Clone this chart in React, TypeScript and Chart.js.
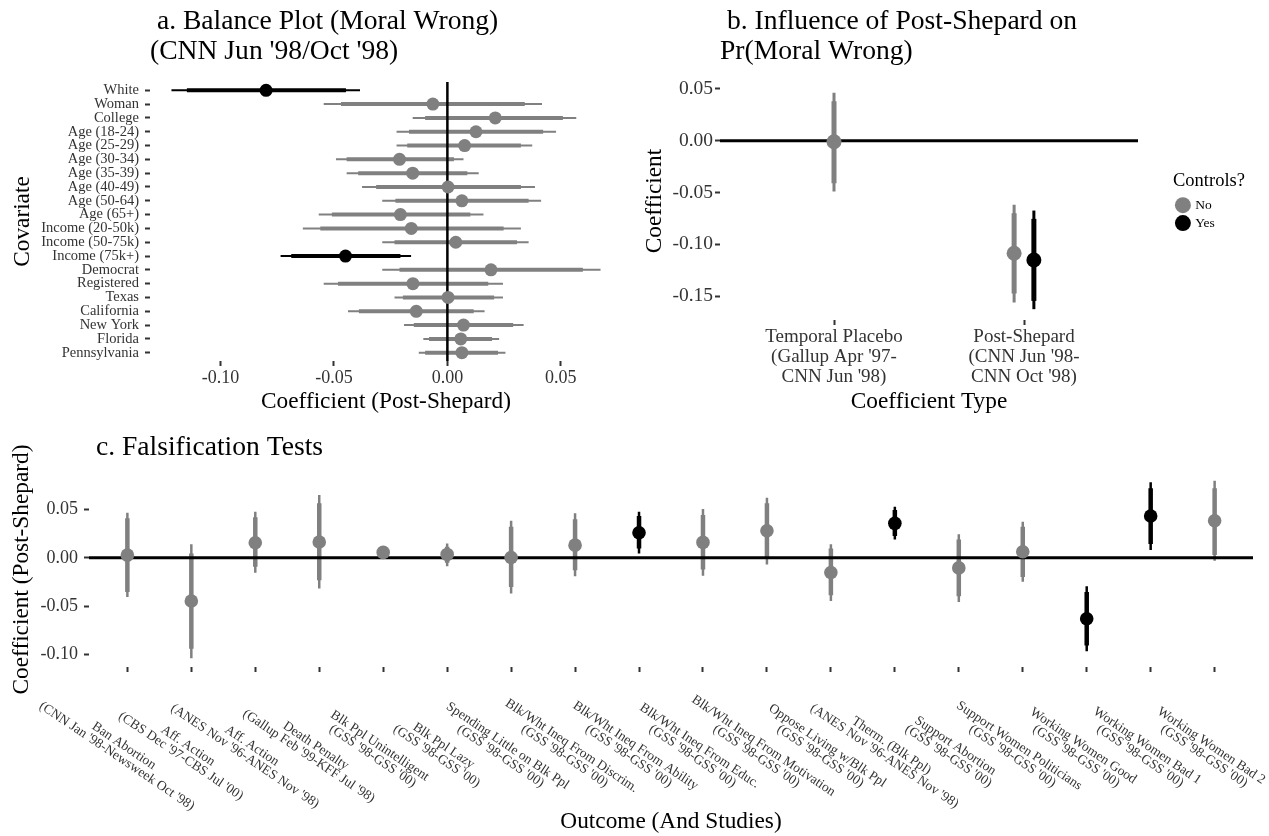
import React, { useEffect, useRef } from 'react';
import { Chart, registerables } from 'chart.js';

Chart.register(...registerables);

const SERIF = '"Liberation Serif", "Times New Roman", Times, serif';
Chart.defaults.font.family = SERIF;

const GRAY = '#808080';
const BLACK = '#000000';
const TICK_TEXT = '#333333';

/* ---------------- panel a: balance plot ---------------- */
const COVARIATES = ['White', 'Woman', 'College', 'Age (18-24)', 'Age (25-29)', 'Age (30-34)', 'Age (35-39)', 'Age (40-49)', 'Age (50-64)', 'Age (65+)', 'Income (20-50k)', 'Income (50-75k)', 'Income (75k+)', 'Democrat', 'Registered', 'Texas', 'California', 'New York', 'Florida', 'Pennsylvania'];
const A_EST = [-0.0799, -0.0064, 0.0211, 0.0126, 0.0076, -0.0211, -0.0153, 0.0003, 0.0064, -0.0207, -0.0159, 0.0037, -0.0449, 0.0192, -0.0152, 0.0003, -0.0137, 0.0071, 0.0059, 0.0064];
const A_LO95 = [-0.1216, -0.0545, -0.0153, -0.0224, -0.0224, -0.0491, -0.0444, -0.0376, -0.0287, -0.0567, -0.0637, -0.0287, -0.0735, -0.0287, -0.0545, -0.0233, -0.0438, -0.0191, -0.0106, -0.0126];
const A_HI95 = [-0.0385, 0.0417, 0.0568, 0.0479, 0.0374, 0.0071, 0.0138, 0.0386, 0.0413, 0.0159, 0.0324, 0.0358, -0.0160, 0.0675, 0.0245, 0.0245, 0.0164, 0.0336, 0.0228, 0.0256];
const A_LO90 = [-0.1148, -0.0469, -0.0098, -0.0169, -0.0177, -0.0444, -0.0393, -0.0314, -0.0229, -0.0509, -0.0560, -0.0233, -0.0688, -0.0211, -0.0482, -0.0196, -0.0390, -0.0148, -0.0081, -0.0098];
const A_HI90 = [-0.0447, 0.0341, 0.0509, 0.0422, 0.0324, 0.0029, 0.0088, 0.0324, 0.0358, 0.0101, 0.0248, 0.0307, -0.0207, 0.0597, 0.0180, 0.0206, 0.0116, 0.0290, 0.0197, 0.0223];
const A_HIGHLIGHT = [true, false, false, false, false, false, false, false, false, false, false, false, true, false, false, false, false, false, false, false];
const A_X_TICKS = [-0.1, -0.05, 0, 0.05];

/* ---------------- panel b: influence ---------------- */
const B_TYPES = [
  ['Temporal Placebo', "(Gallup Apr '97-", "CNN Jun '98)"],
  ['Post-Shepard', "(CNN Jun '98-", "CNN Oct '98)"],
];
const B_GROUP = [1, 2, 2];
const B_CONTROLS = ['No', 'No', 'Yes'];
const B_EST = [-0.001, -0.1086, -0.1151];
const B_LO95 = [-0.049, -0.156, -0.1625];
const B_HI95 = [0.0461, -0.0619, -0.0674];
const B_LO90 = [-0.041, -0.1473, -0.1545];
const B_HI90 = [0.038, -0.0699, -0.0754];
const B_Y_TICKS = [0.05, 0, -0.05, -0.1, -0.15];
const B_DODGE = 0.052;

/* ---------------- panel c: falsification ---------------- */
const C_OUTCOMES = [
  ['Ban Abortion', "(CNN Jan '98-Newsweek Oct '98)"],
  ['Aff. Action', "(CBS Dec '97-CBS Jul '00)"],
  ['Aff. Action', "(ANES Nov '96-ANES Nov '98)"],
  ['Death Penalty', "(Gallup Feb '99-KFF Jul '98)"],
  ['Blk Ppl Unintelligent', "(GSS '98-GSS '00)"],
  ['Blk Ppl Lazy', "(GSS '98-GSS '00)"],
  ['Spending Little on Blk Ppl', "(GSS '98-GSS '00)"],
  ['Blk/Wht Ineq From Discrim.', "(GSS '98-GSS '00)"],
  ['Blk/Wht Ineq From Ability', "(GSS '98-GSS '00)"],
  ['Blk/Wht Ineq From Educ.', "(GSS '98-GSS '00)"],
  ['Blk/Wht Ineq From Motivation', "(GSS '98-GSS '00)"],
  ['Oppose Living w/Blk Ppl', "(GSS '98-GSS '00)"],
  ['Therm. (Blk Ppl)', "(ANES Nov '96-ANES Nov '98)"],
  ['Support Abortion', "(GSS '98-GSS '00)"],
  ['Support Women Politicians', "(GSS '98-GSS '00)"],
  ['Working Women Good', "(GSS '98-GSS '00)"],
  ['Working Women Bad 1', "(GSS '98-GSS '00)"],
  ['Working Women Bad 2', "(GSS '98-GSS '00)"],
];
const C_EST = [0.0028, -0.0445, 0.0155, 0.0163, 0.0056, 0.0035, 0.0004, 0.0131, 0.0259, 0.0159, 0.0280, -0.0151, 0.0356, -0.0104, 0.0062, -0.0628, 0.0432, 0.0383];
const C_LO95 = [-0.0404, -0.1035, -0.0155, -0.0317, 0.0006, -0.0086, -0.0369, -0.0190, 0.0045, -0.0186, -0.0069, -0.0445, 0.0190, -0.0455, -0.0248, -0.0963, 0.0080, -0.0031];
const C_HI95 = [0.0466, 0.0140, 0.0476, 0.0649, 0.0106, 0.0149, 0.0383, 0.0460, 0.0476, 0.0504, 0.0621, 0.0139, 0.0528, 0.0242, 0.0373, -0.0293, 0.0781, 0.0794];
const C_LO90 = [-0.0352, -0.0938, -0.0093, -0.0231, 0.0016, -0.0052, -0.0300, -0.0127, 0.0097, -0.0120, -0.0006, -0.0386, 0.0225, -0.0397, -0.0197, -0.0904, 0.0142, 0.0028];
const C_HI90 = [0.0408, 0.0045, 0.0418, 0.0563, 0.0096, 0.0114, 0.0321, 0.0397, 0.0432, 0.0442, 0.0563, 0.0097, 0.0494, 0.0190, 0.0321, -0.0352, 0.0718, 0.0718];
const C_CONTROLS = ['No', 'No', 'No', 'No', 'No', 'No', 'No', 'No', 'Yes', 'No', 'No', 'No', 'Yes', 'No', 'No', 'Yes', 'Yes', 'No'];
const C_Y_TICKS = [0.05, 0, -0.05, -0.1];

/* ---------------- helpers ---------------- */
type Pt = { x: number | null; y: number | null };

const expand = (lo: number, hi: number): [number, number] => {
  const d = hi - lo;
  return [lo - 0.05 * d, hi + 0.05 * d];
};

function segments(pos: number[], lo: number[], hi: number[], keep: (i: number) => boolean, horizontal: boolean): Pt[] {
  const out: Pt[] = [];
  pos.forEach((p, i) => {
    if (!keep(i)) return;
    if (horizontal) out.push({ x: lo[i], y: p }, { x: hi[i], y: p });
    else out.push({ x: p, y: lo[i] }, { x: p, y: hi[i] });
    out.push({ x: null, y: null });
  });
  return out;
}

function pointsOf(pos: number[], est: number[], keep: (i: number) => boolean, horizontal: boolean): Pt[] {
  const out: Pt[] = [];
  pos.forEach((p, i) => {
    if (!keep(i)) return;
    out.push(horizontal ? { x: est[i], y: p } : { x: p, y: est[i] });
  });
  return out;
}

const segDS = (data: Pt[], color: string, width: number, order: number) => ({
  type: 'line', data, borderColor: color, borderWidth: width, pointRadius: 0, pointHoverRadius: 0,
  spanGaps: false, fill: false, tension: 0, borderCapStyle: 'butt', order,
});

const ptDS = (data: Pt[], color: string, r: number, order = 0) => ({
  type: 'line', data, showLine: false, pointRadius: r, pointHoverRadius: r, pointStyle: 'circle',
  pointBackgroundColor: color, pointBorderColor: color, pointBorderWidth: 0, order,
});

const fixedTicks = (values: number[]) => (scale: any) => {
  scale.ticks = values.map((v) => ({ value: v }));
};

const tickGrid = { display: true, drawOnChartArea: false, drawTicks: true, tickLength: 5, tickWidth: 2, tickColor: '#333333' };

const titleOpts = (text: string[], top: number, bottom: number) => ({
  display: true, text, align: 'start', fullSize: false, color: '#000',
  font: { family: SERIF, size: 27.6, lineHeight: 1.08, weight: 'normal' },
  padding: { top, bottom },
});

const axisTitle = (text: string, padding: any) => ({
  display: true, text, color: '#000', font: { family: SERIF, size: 23.3, lineHeight: 1.2, weight: 'normal' }, padding,
});

const base = {
  animation: false, responsive: false, maintainAspectRatio: false, devicePixelRatio: 1, events: [],
};

/* ---------------- chart a ---------------- */
function buildA(): any {
  const pos = COVARIATES.map((_, i) => i + 1);
  const keep = (hl: boolean) => (i: number) => A_HIGHLIGHT[i] === hl;
  const [xMin, xMax] = expand(Math.min(...A_LO95), Math.max(...A_HI95));
  const yMin = 0.4;
  const yMax = COVARIATES.length + 0.6;
  return {
    type: 'line',
    data: {
      datasets: [
        ptDS(pointsOf(pos, A_EST, keep(false), true), GRAY, 6.5, 0),
        ptDS(pointsOf(pos, A_EST, keep(true), true), BLACK, 6.5, 0),
        segDS([{ x: 0, y: yMin }, { x: 0, y: yMax }], BLACK, 2.5, 1),
        segDS(segments(pos, A_LO90, A_HI90, keep(false), true), GRAY, 4, 2),
        segDS(segments(pos, A_LO90, A_HI90, keep(true), true), BLACK, 4, 2),
        segDS(segments(pos, A_LO95, A_HI95, keep(false), true), GRAY, 2, 3),
        segDS(segments(pos, A_LO95, A_HI95, keep(true), true), BLACK, 2, 3),
      ],
    },
    options: {
      ...base,
      layout: { padding: { left: 0, right: 13, top: 0, bottom: 4 } },
      plugins: {
        legend: { display: false },
        tooltip: { enabled: false },
        title: titleOpts([' a. Balance Plot (Moral Wrong)', "(CNN Jun '98/Oct '98)"], 7, 15.4),
      },
      scales: {
        x: {
          type: 'linear', min: xMin, max: xMax,
          afterBuildTicks: fixedTicks(A_X_TICKS),
          afterFit: (s: any) => { s.height = 60; },
          ticks: { callback: (v: any) => Number(v).toFixed(2), font: { size: 18 }, color: TICK_TEXT, padding: 1, autoSkip: false, maxRotation: 0, minRotation: 0 },
          grid: tickGrid, border: { display: false },
          title: axisTitle('Coefficient (Post-Shepard)', { top: 0, bottom: 5.5 }),
        },
        y: {
          type: 'linear', reverse: true, min: yMin, max: yMax,
          afterBuildTicks: fixedTicks(pos),
          afterFit: (s: any) => { s.width = 150; },
          ticks: { callback: (v: any) => COVARIATES[Math.round(Number(v)) - 1], font: { size: 14.5 }, color: TICK_TEXT, padding: 6, autoSkip: false },
          grid: tickGrid, border: { display: false },
          title: axisTitle('Covariate', { top: 9, bottom: 0 }),
        },
      },
    },
  };
}

/* ---------------- chart b ---------------- */
const LEGEND_W = 90;
const fixedLegendWidth = {
  id: 'fixedLegendWidth',
  beforeLayout(chart: any) {
    const lg = chart.legend;
    if (lg && !lg.__fixedWidth) {
      const orig = lg.fit;
      lg.fit = function () {
        orig.call(this);
        this.width = LEGEND_W;
      };
      lg.__fixedWidth = true;
    }
  },
};

function buildB(): any {
  const pos = B_GROUP.map((g, i) => {
    const n = B_GROUP.filter((v) => v === g).length;
    if (n === 1) return g;
    const k = B_GROUP.slice(0, i).filter((v) => v === g).length;
    return g + (k - (n - 1) / 2) * 2 * B_DODGE;
  });
  const keep = (c: string) => (i: number) => B_CONTROLS[i] === c;
  const [yMin, yMax] = expand(Math.min(...B_LO95), Math.max(...B_HI95));
  const xMin = 0.4;
  const xMax = B_TYPES.length + 0.6;
  return {
    type: 'line',
    data: {
      datasets: [
        ptDS(pointsOf(pos, B_EST, keep('No'), false), GRAY, 7.5, 0),
        ptDS(pointsOf(pos, B_EST, keep('Yes'), false), BLACK, 7.5, 0),
        segDS([{ x: xMin, y: 0 }, { x: xMax, y: 0 }], BLACK, 3, 1),
        segDS(segments(pos, B_LO90, B_HI90, keep('No'), false), GRAY, 5, 2),
        segDS(segments(pos, B_LO90, B_HI90, keep('Yes'), false), BLACK, 5, 2),
        segDS(segments(pos, B_LO95, B_HI95, keep('No'), false), GRAY, 3, 3),
        segDS(segments(pos, B_LO95, B_HI95, keep('Yes'), false), BLACK, 3, 3),
      ],
    },
    plugins: [fixedLegendWidth],
    options: {
      ...base,
      layout: { padding: { left: 0, right: 634 - 503 - 35 - LEGEND_W, top: 0, bottom: 5 } },
      plugins: {
        tooltip: { enabled: false },
        title: titleOpts([' b. Influence of Post-Shepard on', 'Pr(Moral Wrong)'], 7, 15.4),
        legend: {
          display: true, position: 'right', align: 'center', fullSize: false,
          title: { display: true, text: 'Controls?', position: 'start', color: '#000', font: { family: SERIF, size: 18.5, lineHeight: 1.2 }, padding: { top: 4, bottom: 0 } },
          labels: {
            usePointStyle: true, boxWidth: 11, boxHeight: 11.3, padding: 4.4, color: '#000',
            font: { family: SERIF, size: 13.5 },
            generateLabels: () => [
              { text: 'No', fillStyle: GRAY, strokeStyle: GRAY, lineWidth: 0, pointStyle: 'circle', hidden: false, datasetIndex: 0 },
              { text: 'Yes', fillStyle: BLACK, strokeStyle: BLACK, lineWidth: 0, pointStyle: 'circle', hidden: false, datasetIndex: 1 },
            ],
          },
        },
      },
      scales: {
        x: {
          type: 'linear', min: xMin, max: xMax,
          afterBuildTicks: fixedTicks(B_TYPES.map((_, i) => i + 1)),
          afterFit: (s: any) => { s.height = 100; },
          ticks: { callback: (v: any) => B_TYPES[Math.round(Number(v)) - 1], font: { size: 19, lineHeight: 1.06 }, color: TICK_TEXT, padding: 1.5, autoSkip: false, maxRotation: 0, minRotation: 0 },
          grid: tickGrid, border: { display: false },
          title: axisTitle('Coefficient Type', { top: 0, bottom: 4.5 }),
        },
        y: {
          type: 'linear', min: yMin, max: yMax,
          afterBuildTicks: fixedTicks(B_Y_TICKS),
          afterFit: (s: any) => { s.width = 85; },
          ticks: { callback: (v: any) => Number(v).toFixed(2), font: { size: 19.5 }, color: TICK_TEXT, padding: 2, autoSkip: false },
          grid: tickGrid, border: { display: false },
          title: axisTitle('Coefficient', { top: 6, bottom: 0 }),
        },
        ySpacer: {
          type: 'linear', position: 'right', display: true,
          ticks: { display: false }, grid: { display: false }, border: { display: false },
          afterFit: (s: any) => { s.width = 35; },
        },
      },
    },
  };
}

/* ---------------- chart c ---------------- */
const C_LABEL_FONT = 13.5;
const C_LABEL_ANGLE = 34;
const C_LABEL_DX = -7;
const C_LABEL_DY = 84;
const C_LABEL_LH = 12.5;

const rotatedOutcomeLabels = {
  id: 'rotatedOutcomeLabels',
  afterDraw(chart: any) {
    const xs = chart.scales.x;
    const ctx = chart.ctx as CanvasRenderingContext2D;
    ctx.save();
    ctx.font = `${C_LABEL_FONT}px ${SERIF}`;
    ctx.fillStyle = TICK_TEXT;
    ctx.textAlign = 'center';
    ctx.textBaseline = 'middle';
    C_OUTCOMES.forEach((lines, i) => {
      const px = xs.getPixelForValue(i + 1);
      ctx.save();
      ctx.translate(px + C_LABEL_DX, chart.chartArea.bottom + C_LABEL_DY);
      ctx.rotate((C_LABEL_ANGLE * Math.PI) / 180);
      lines.forEach((t, j) => ctx.fillText(t, 0, (j - (lines.length - 1) / 2) * C_LABEL_LH));
      ctx.restore();
    });
    ctx.restore();
  },
};

function buildC(): any {
  const pos = C_OUTCOMES.map((_, i) => i + 1);
  const keep = (c: string) => (i: number) => C_CONTROLS[i] === c;
  const [yMin, yMax] = expand(Math.min(...C_LO95), Math.max(...C_HI95));
  const xMin = 0.4;
  const xMax = C_OUTCOMES.length + 0.6;
  return {
    type: 'line',
    data: {
      datasets: [
        ptDS(pointsOf(pos, C_EST, keep('No'), false), GRAY, 6.8, 0),
        ptDS(pointsOf(pos, C_EST, keep('Yes'), false), BLACK, 6.8, 0),
        segDS([{ x: xMin, y: 0 }, { x: xMax, y: 0 }], BLACK, 3, 1),
        segDS(segments(pos, C_LO90, C_HI90, keep('No'), false), GRAY, 4.5, 2),
        segDS(segments(pos, C_LO90, C_HI90, keep('Yes'), false), BLACK, 4.5, 2),
        segDS(segments(pos, C_LO95, C_HI95, keep('No'), false), GRAY, 2.5, 3),
        segDS(segments(pos, C_LO95, C_HI95, keep('Yes'), false), BLACK, 2.5, 3),
      ],
    },
    plugins: [rotatedOutcomeLabels],
    options: {
      ...base,
      layout: { padding: { left: 0, right: 16, top: 0, bottom: 0 } },
      plugins: {
        legend: { display: false },
        tooltip: { enabled: false },
        title: titleOpts([' c. Falsification Tests'], 8.1, 9.1),
      },
      scales: {
        x: {
          type: 'linear', min: xMin, max: xMax,
          afterBuildTicks: fixedTicks(pos),
          afterFit: (s: any) => { s.height = 169; },
          ticks: { display: false, autoSkip: false },
          grid: tickGrid, border: { display: false },
          title: axisTitle('Outcome (And Studies)', { top: 0, bottom: 0.5 }),
        },
        y: {
          type: 'linear', min: yMin, max: yMax,
          afterBuildTicks: fixedTicks(C_Y_TICKS),
          afterFit: (s: any) => { s.width = 89; },
          ticks: { callback: (v: any) => Number(v).toFixed(2), font: { size: 18 }, color: TICK_TEXT, padding: 6, autoSkip: false },
          grid: tickGrid, border: { display: false },
          title: axisTitle('Coefficient (Post-Shepard)', { top: 8, bottom: 0 }),
        },
      },
    },
  };
}

export default function App() {
  const aRef = useRef<HTMLCanvasElement>(null);
  const bRef = useRef<HTMLCanvasElement>(null);
  const cRef = useRef<HTMLCanvasElement>(null);

  useEffect(() => {
    const charts: Chart[] = [];
    if (aRef.current) charts.push(new Chart(aRef.current, buildA()));
    if (bRef.current) charts.push(new Chart(bRef.current, buildB()));
    if (cRef.current) charts.push(new Chart(cRef.current, buildC()));
    return () => charts.forEach((c) => c.destroy());
  }, []);

  return (
    <div style={{ position: 'fixed', left: 0, top: 0, width: 1269, height: 836, background: '#ffffff', overflow: 'hidden' }}>
      <canvas ref={aRef} width={635} height={425} style={{ position: 'absolute', left: 0, top: 0, width: 635, height: 425 }} />
      <canvas ref={bRef} width={634} height={425} style={{ position: 'absolute', left: 635, top: 0, width: 634, height: 425 }} />
      <canvas ref={cRef} width={1269} height={411} style={{ position: 'absolute', left: 0, top: 425, width: 1269, height: 411 }} />
    </div>
  );
}
